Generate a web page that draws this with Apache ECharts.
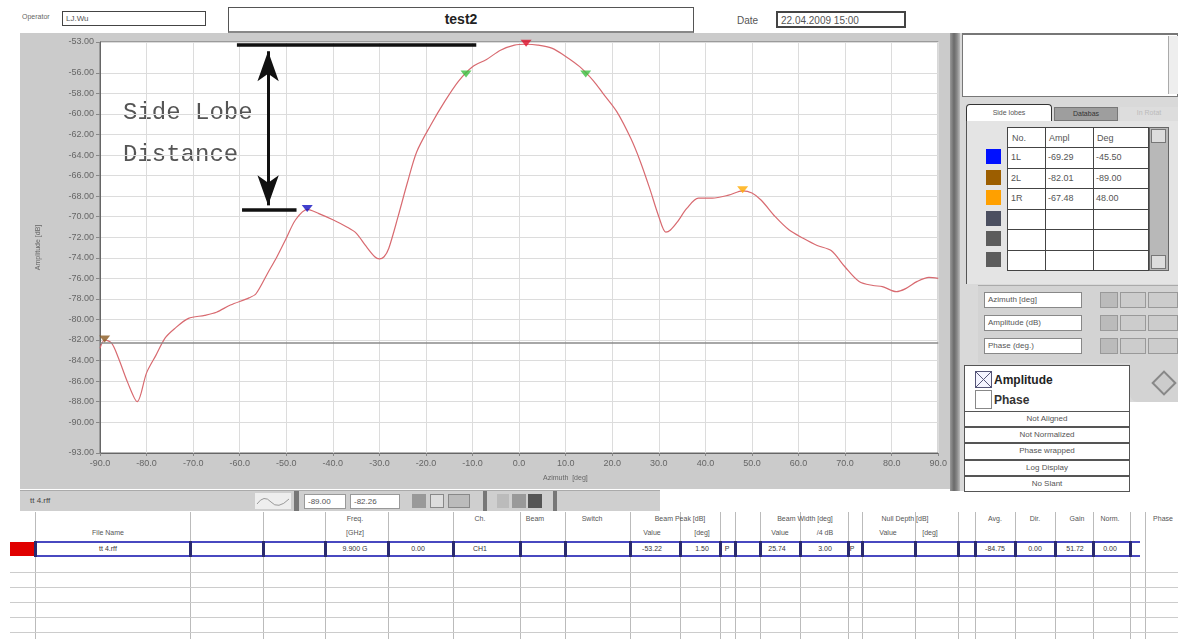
<!DOCTYPE html>
<html><head><meta charset="utf-8">
<script src="https://cdn.jsdelivr.net/npm/echarts@6/dist/echarts.min.js"></script>
<style>
html,body{margin:0;padding:0}
body{width:1178px;height:639px;background:#fff;font-family:"Liberation Sans",Arial,sans-serif;color:#444;overflow:hidden;position:relative}
.a{position:absolute;box-sizing:border-box}
.t{position:absolute;font-size:8px;white-space:nowrap;color:#444}
.c{transform:translateX(-50%)}
.box{position:absolute;box-sizing:border-box;border:1px solid #555;background:#fff;font-size:8px;color:#555;padding-left:3px;white-space:nowrap}
</style></head>
<body>
<!-- header -->
<div class="t" style="left:22px;top:13px;font-size:7px;color:#666">Operator</div>
<div class="box" style="left:62px;top:11px;width:144px;height:15px;line-height:13px;border-color:#444">LJ.Wu</div>
<div class="a" style="left:228px;top:7px;width:466px;height:26px;border:1px solid #555;border-bottom:2px solid #888;text-align:center;font-weight:bold;font-size:14px;line-height:22px;color:#222">test2</div>
<div class="t" style="left:737px;top:15px;font-size:10px;color:#555">Date</div>
<div class="box" style="left:776px;top:11px;width:130px;height:17px;line-height:15px;font-size:10px;border:2px solid #444">22.04.2009 15:00</div>

<div id="chart" class="a" style="left:20px;top:33px;width:930px;height:456px"></div>

<!-- right splitter -->
<div class="a" style="left:950px;top:33px;width:10px;height:458px;background:linear-gradient(90deg,#999,#6a6a6a 40%,#888 70%,#bbb)"></div>

<!-- right panel -->
<div class="a" style="left:960px;top:33px;width:218px;height:458px;background:#d9d9d9"></div>
<div class="a" style="left:962px;top:33px;width:216px;height:64px;background:#fff;border:1px solid #777;border-top:2px solid #777"></div>
<div class="a" style="left:1168px;top:36px;width:10px;height:58px;background:#eee;border-left:1px solid #aaa"></div>
<div class="a" style="left:966px;top:104px;width:86px;height:17px;background:#fff;border:1px solid #333;border-bottom:none;border-radius:4px 4px 0 0;font-size:7px;text-align:center;line-height:15px;color:#555">Side lobes</div>
<div class="a" style="left:1054px;top:107px;width:64px;height:14px;background:#9e9e9e;border:1px solid #777;font-size:7px;text-align:center;line-height:12px;color:#333">Databas</div>
<div class="a" style="left:1120px;top:107px;width:58px;height:14px;background:#ddd;font-size:7px;text-align:center;line-height:12px;color:#bbb">In Rotat</div>
<div class="a" style="left:966px;top:121px;width:212px;height:163px;background:#e4e4e4;border-left:1px solid #555"></div>
<div id="sl" class="a" style="left:1007px;top:127px;width:142px;height:144px;background:#fff;border:1px solid #444"></div>
<div class="a" style="left:1149px;top:127px;width:20px;height:144px;background:#b8b8b8;border:1px solid #666"></div>
<div class="a" style="left:1151px;top:129px;width:15px;height:14px;background:#ddd;border:1px solid #777"></div>
<div class="a" style="left:1151px;top:255px;width:15px;height:14px;background:#ddd;border:1px solid #777"></div>

<!-- axis fields -->
<div class="a" style="left:978px;top:285px;width:200px;height:78px;background:#d3d3d3;border-top:1px solid #aaa"></div>
<div class="box" style="left:984px;top:292px;width:98px;height:16px;line-height:14px;border-color:#888">Azimuth [deg]</div>
<div class="box" style="left:984px;top:315px;width:98px;height:16px;line-height:14px;border-color:#888">Amplitude (dB)</div>
<div class="box" style="left:984px;top:338px;width:98px;height:16px;line-height:14px;border-color:#888">Phase (deg.)</div>
<div class="a" style="left:1100px;top:292px;width:18px;height:16px;background:#bbb;border:1px solid #999"></div>
<div class="a" style="left:1120px;top:292px;width:26px;height:16px;background:#ccc;border:1px solid #999"></div>
<div class="a" style="left:1148px;top:292px;width:30px;height:16px;background:#ccc;border:1px solid #999"></div>
<div class="a" style="left:1100px;top:315px;width:18px;height:16px;background:#bbb;border:1px solid #999"></div>
<div class="a" style="left:1120px;top:315px;width:26px;height:16px;background:#ccc;border:1px solid #999"></div>
<div class="a" style="left:1148px;top:315px;width:30px;height:16px;background:#ccc;border:1px solid #999"></div>
<div class="a" style="left:1100px;top:338px;width:18px;height:16px;background:#bbb;border:1px solid #999"></div>
<div class="a" style="left:1120px;top:338px;width:26px;height:16px;background:#ccc;border:1px solid #999"></div>
<div class="a" style="left:1148px;top:338px;width:30px;height:16px;background:#ccc;border:1px solid #999"></div>
<div class="a" style="left:1130px;top:362px;width:48px;height:40px;background:#d3d3d3;border-radius:0 0 0 8px"></div>
<div class="a" style="left:1155px;top:374px;width:18px;height:18px;border:2px solid #888;transform:rotate(45deg);background:#ccc"></div>
<div class="a" style="left:1130px;top:402px;width:48px;height:90px;background:#fff"></div>

<!-- checkbox panel -->
<div class="a" style="left:964px;top:365px;width:166px;height:127px;background:#fff;border:1px solid #555"></div>
<div class="a" style="left:975px;top:371px;width:17px;height:17px;border:1px solid #557;background:#f4f4ff"></div>
<svg class="a" style="left:975px;top:371px" width="17" height="17"><line x1="1" y1="1" x2="16" y2="16" stroke="#557" stroke-width="1"/><line x1="16" y1="1" x2="1" y2="16" stroke="#557" stroke-width="1"/></svg>
<div class="t" style="left:994px;top:373px;font-size:12px;font-weight:bold;color:#222">Amplitude</div>
<div class="a" style="left:975px;top:390px;width:17px;height:19px;border:1px solid #888;background:#fff"></div>
<div class="t" style="left:994px;top:393px;font-size:12px;font-weight:bold;color:#333">Phase</div>
<div id="btns"></div>

<!-- toolbar under chart -->
<div class="a" style="left:20px;top:490px;width:640px;height:21px;background:#cfcfcf;border-top:1px solid #aaa"></div>
<div class="t" style="left:30px;top:496px;color:#444">tt 4.rff</div>
<div class="a" style="left:255px;top:493px;width:36px;height:16px;background:#eee"></div>
<svg class="a" style="left:256px;top:494px" width="34" height="14"><path d="M1 10 Q8 0 15 8 T33 5" stroke="#999" fill="none"/></svg>
<div class="a" style="left:294px;top:491px;width:5px;height:20px;background:#777"></div>
<div class="box" style="left:304px;top:494px;width:42px;height:15px;line-height:13px;border-color:#999">-89.00</div>
<div class="box" style="left:350px;top:494px;width:50px;height:15px;line-height:13px;border-color:#999">-82.26</div>
<div class="a" style="left:412px;top:494px;width:14px;height:14px;background:#999"></div>
<div class="a" style="left:430px;top:494px;width:14px;height:14px;background:#ddd;border:1px solid #888"></div>
<div class="a" style="left:448px;top:494px;width:22px;height:14px;background:#bbb;border:1px solid #888"></div>
<div class="a" style="left:483px;top:491px;width:4px;height:20px;background:#777"></div>
<div class="a" style="left:497px;top:494px;width:12px;height:14px;background:#bbb"></div>
<div class="a" style="left:512px;top:494px;width:14px;height:14px;background:#999"></div>
<div class="a" style="left:528px;top:494px;width:14px;height:14px;background:#555"></div>
<div class="a" style="left:553px;top:491px;width:4px;height:20px;background:#777"></div>

<!-- bottom table -->
<div id="tbl"></div>

<script>
// ---------------- data ----------------
const azimuth = [-90,-89,-87.5,-86,-84,-82,-80,-78,-76,-74,-71,-67.5,-65,-62,-58,-56.5,-54,-52,-50,-48,-45.5,-43,-40,-37,-35,-33,-31,-30,-29,-28,-26,-24,-22,-19,-16,-13,-10,-7,-4,-1,1.5,4,7,10,13,16,18,21,24,26,28,30,31.5,32.5,34,36,38.5,41.5,45,48,50,52,55,58,61,64,67,70,73,76,78,81,83,85.5,88,90];
const amplitude = [-82.8,-82.0,-82.3,-83.8,-86.2,-88.0,-85.2,-83.5,-81.8,-80.9,-79.9,-79.6,-79.3,-78.6,-77.9,-77.5,-75.5,-73.9,-72.1,-70.3,-69.29,-69.7,-70.3,-71.0,-71.6,-72.8,-73.9,-74.1,-73.9,-73.1,-70.0,-66.7,-63.7,-61.1,-58.8,-56.8,-55.4,-54.7,-53.8,-53.3,-53.22,-53.3,-53.6,-54.4,-55.4,-56.8,-58.0,-59.8,-62.4,-64.6,-67.2,-70.0,-71.5,-71.3,-70.5,-69.2,-68.2,-68.2,-67.9,-67.48,-67.7,-68.4,-70.0,-71.3,-72.1,-72.8,-73.3,-74.9,-76.3,-76.7,-76.8,-77.3,-77.0,-76.3,-75.9,-76.0];

const beamPeak = [[1.5, -53.22]];
const beamWidthPoints = [[-11.4, -56.22], [14.3, -56.22]];
const lobe1L = [[-45.5, -69.29]];
const lobe2L = [[-89.0, -82.01]];
const lobe1R = [[48.0, -67.48]];
const cursorLevel = -82.26;

const yTickValues = [-53,-56,-58,-60,-62,-64,-66,-68,-70,-72,-74,-76,-78,-80,-82,-84,-86,-88,-90,-93];
const xMin = -90, xMax = 90, xStep = 10;

const sideLobeNo = ['1L','2L','1R','','',''];
const sideLobeAmpl = ['-69.29','-82.01','-67.48','','',''];
const sideLobeDeg = ['-45.50','-89.00','48.00','','',''];
const swatchColors = ['#0010ff','#9c5e00','#ffa000','#4b4f60','#5c5c5c','#5c5c5c'];

const optionButtons = ['Not Aligned','Not Normalized','Phase wrapped','Log Display','No Slant'];

const headRow1 = [['Freq.',355],['Ch.',480],['Beam',535],['Switch',592],['Beam Peak [dB]',680],['Beam Width [deg]',805],['Null Depth [dB]',905],['Avg.',995],['Dir.',1035],['Gain',1077],['Norm.',1110],['Phase',1163]];
const headRow2 = [['File Name',108],['[GHz]',355],['Value',652],['[deg]',702],['Value',780],['/4 dB',825],['Value',888],['[deg]',930]];
const dataRow = [['tt 4.rff',108],['9.900 G',355],['0.00',418],['CH1',480],['-53.22',652],['1.50',702],['P',727],['25.74',777],['3.00',825],['P',852],['-84.75',995],['0.00',1035],['51.72',1075],['0.00',1110]];
const colEdges = [35,190,263,325,388,453,520,565,630,680,720,735,760,800,848,862,915,958,975,1015,1055,1093,1130,1145];

// ---------------- side lobe table ----------------
(function(){
  const sl = document.getElementById('sl');
  const colX = [0,37,85];
  let html = '';
  const hdr = ['No.','Ampl','Deg'];
  const rowH = 20.5, top0 = 19;
  hdr.forEach((h,i)=>{ html += `<div class="t" style="left:${colX[i]+4}px;top:5px;font-size:9px;color:#555">${h}</div>`; });
  for (let r=0;r<6;r++){
    const y = top0 + r*rowH;
    html += `<div class="a" style="left:0;top:${y}px;width:140px;height:0;border-top:1.5px solid #444"></div>`;
    html += `<div class="t" style="left:${colX[0]+3}px;top:${y+5}px;font-size:9px;color:#555">${sideLobeNo[r]}</div>`;
    html += `<div class="t" style="left:${colX[1]+3}px;top:${y+5}px;font-size:9px;color:#555">${sideLobeAmpl[r]}</div>`;
    html += `<div class="t" style="left:${colX[2]+3}px;top:${y+5}px;font-size:9px;color:#555">${sideLobeDeg[r]}</div>`;
  }
  [37,85].forEach(x=>{ html += `<div class="a" style="left:${x}px;top:0;width:0;height:142px;border-left:1.5px solid #444"></div>`; });
  sl.innerHTML = html;
  let sw = '';
  for (let r=0;r<6;r++){
    sw += `<div class="a" style="left:986px;top:${127+top0+r*rowH+3}px;width:15px;height:15px;background:${swatchColors[r]}"></div>`;
  }
  document.body.insertAdjacentHTML('beforeend', sw);
  let b = '';
  optionButtons.forEach((t,i)=>{
    b += `<div class="a" style="left:964px;top:${411+i*16.2}px;width:166px;height:16.2px;border:1px solid #555;font-size:8px;text-align:center;line-height:14px;color:#555;background:#fff">${t}</div>`;
  });
  document.getElementById('btns').innerHTML = b;
})();

// ---------------- bottom table ----------------
(function(){
  let h = '';
  const hTop = 512, dTop = 541, dH = 16;
  colEdges.forEach((x)=>{
    h += `<div class="a" style="left:${x}px;top:${hTop}px;width:0;height:${639-hTop}px;border-left:1px solid #bbb"></div>`;
  });
  headRow1.forEach(([t,x])=>{ h += `<div class="t c" style="left:${x}px;top:${hTop+3}px;font-size:7px;color:#555">${t}</div>`; });
  headRow2.forEach(([t,x])=>{ h += `<div class="t c" style="left:${x}px;top:${hTop+17}px;font-size:7px;color:#555">${t}</div>`; });
  h += `<div class="a" style="left:10px;top:${dTop+1}px;width:25px;height:${dH-2}px;background:#e00000"></div>`;
  h += `<div class="a" style="left:35px;top:${dTop}px;width:1105px;height:${dH}px;border-top:2px solid #4848c0;border-bottom:2px solid #4848c0"></div>`;
  colEdges.slice(0,-1).forEach(x=>{
    h += `<div class="a" style="left:${x-1}px;top:${dTop}px;width:3px;height:${dH}px;background:#2a2a70"></div>`;
  });
  dataRow.forEach(([t,x])=>{ h += `<div class="t c" style="left:${x}px;top:${dTop+4}px;font-size:7px;color:#333">${t}</div>`; });
  for (let r=1;r<=5;r++){
    h += `<div class="a" style="left:10px;top:${dTop+dH+r*15}px;width:1168px;height:0;border-top:1px solid #ccc"></div>`;
  }
  document.getElementById('tbl').innerHTML = h;
})();

// ---------------- chart ----------------
const chart = echarts.init(document.getElementById('chart'), null, {renderer:'canvas'});
const curve = azimuth.map((a,i)=>[a, amplitude[i]]);
const tri = (data, color) => ({
  type:'scatter', data, symbol:'triangle', symbolRotate:180, symbolSize:[11,7], symbolOffset:[0,-1],
  itemStyle:{color}, z:5, silent:true
});
chart.setOption({
  backgroundColor:'#cbcbcb',
  animation:false,
  grid:{left:80, right:5, top:9, bottom:36, show:true, backgroundColor:'#fff', borderColor:'#6a6a6a', borderWidth:1},
  xAxis:{
    type:'value', min:xMin, max:xMax, interval:xStep,
    axisLine:{show:true, onZero:false, lineStyle:{color:'#666'}},
    axisTick:{show:true, length:3, lineStyle:{color:'#888'}},
    axisLabel:{formatter:v=>v.toFixed(1), color:'#666', fontSize:9, margin:6},
    splitLine:{show:true, lineStyle:{color:'#dcdcdc', width:1}}
  },
  yAxis:{
    type:'value', min:-93, max:-53,
    name:'Amplitude [dB]', nameLocation:'middle', nameGap:58, nameRotate:90,
    nameTextStyle:{fontSize:7, color:'#666'},
    axisLine:{show:true, onZero:false, lineStyle:{color:'#666'}},
    axisTick:{show:true, length:4, customValues:yTickValues, lineStyle:{color:'#888'}},
    axisLabel:{customValues:yTickValues, formatter:v=>v.toFixed(2), color:'#666', fontSize:9, margin:6},
    splitLine:{show:true, lineStyle:{color:'#dcdcdc', width:1}}
  },
  graphic:[
    {type:'text', left:523, top:442, style:{text:'Azimuth  [deg]', fill:'#666', font:'7px "Liberation Sans"'}},
    {type:'text', left:103, top:68, style:{text:'Side Lobe', fill:'#555', font:'24px "Liberation Mono"'}},
    {type:'text', left:103, top:110, style:{text:'Distance', fill:'#555', font:'24px "Liberation Mono"'}}
  ],
  series:[
    {
      type:'line', data:curve, smooth:0.3, showSymbol:false, silent:true,
      lineStyle:{color:'#d86a70', width:1.2}, z:3,
      markLine:{
        silent:true, symbol:'none', animation:false,
        label:{show:false},
        data:[
          {yAxis:cursorLevel, lineStyle:{color:'#8a8a8a', width:1.5, type:'solid'}},
          [{coord:[-60.6,-53.22], lineStyle:{color:'#111', width:3.5, type:'solid'}},{coord:[-9.2,-53.22]}],
          [{coord:[-59.5,-69.29], lineStyle:{color:'#111', width:3.5, type:'solid'}},{coord:[-47.8,-69.29]}],
          [{coord:[-53.9,-53.9], symbol:'arrow', symbolSize:[16,30], lineStyle:{color:'#111', width:3, type:'solid'}},
           {coord:[-53.9,-68.9], symbol:'arrow', symbolSize:[16,30]}]
        ]
      }
    },
    tri(beamPeak, '#e0102a'),
    tri(beamWidthPoints, '#3cc040'),
    tri(lobe1L, '#1010c0'),
    tri(lobe2L, '#8a5a20'),
    tri(lobe1R, '#ffaa00')
  ]
});
</script>
</body></html>
